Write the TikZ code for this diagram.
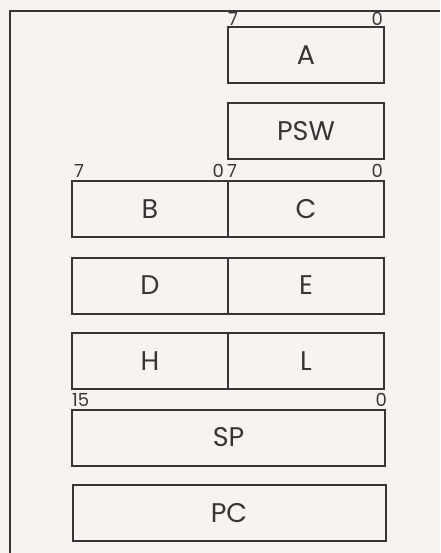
\documentclass[tikz,border=0pt]{standalone}
\usepackage{fontspec}
\setmainfont{Poppins}
\definecolor{bg}{HTML}{F8F3F0}
\definecolor{ink}{HTML}{3B3436}
\begin{document}
\begin{tikzpicture}[x=1pt,y=-1pt,
  reg/.style={draw=ink,line width=2pt,rectangle,inner sep=0pt,minimum height=56pt,font=\fontsize{27}{27}\selectfont,text=ink},
  half/.style={reg,minimum width=156pt},
  full/.style={reg,minimum width=313pt},
  bit/.style={inner sep=0pt,font=\fontsize{18}{18}\selectfont,text=ink},
  bitl/.style={bit,anchor=base west},
  bitr/.style={bit,anchor=base east}]
\fill[bg] (0,0) rectangle (440,553);
\useasboundingbox (0,0) rectangle (440,553);
\draw[ink,line width=2pt] (10,553) -- (10,11) -- (440,11);
% A and PSW
\node[half] (A) at (306,55.5) {A};
\node[half] (PSW) at (306,131) {PSW};
\node[bitl] (a7) at (228,26) {7};
\node[bitr] (a0) at (383,26) {0};
% register pairs
\node[half] (B) at (150,209) {B};
\node[half] (C) at (306,209) {C};
\node[half] (D) at (150,285.5) {D};
\node[half] (E) at (306,285.5) {E};
\node[half] (H) at (150,361) {H};
\node[half] (L) at (306,361) {L};
\node[bitl] (b7) at (74,178) {7};
\node[bitr] (b0) at (224,178) {0};
\node[bitl] (c7) at (227,178) {7};
\node[bitr] (c0) at (383,178) {0};
% SP, PC
\node[full] (SP) at (228.5,437.5) {SP};
\node[full] (PC) at (229,513) {PC};
\node[bitl] (s15) at (72,406) {15};
\node[bitr] (s0) at (387,406) {0};
\end{tikzpicture}
\end{document}
